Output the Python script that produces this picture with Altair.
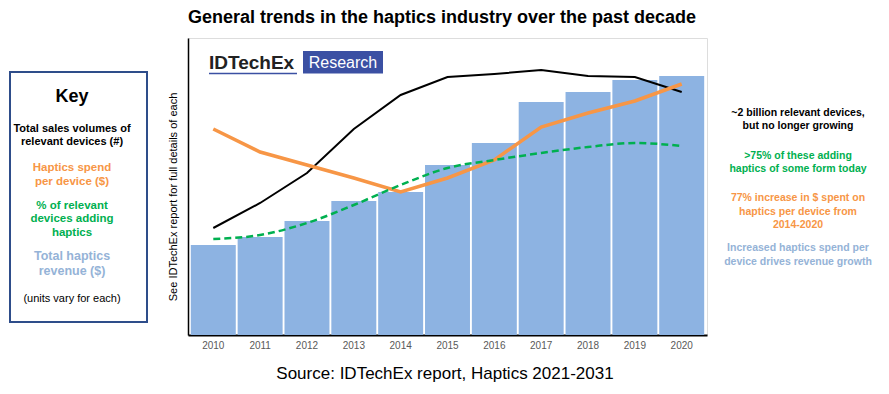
import altair as alt
import pandas as pd

years = ["2010", "2011", "2012", "2013", "2014", "2015", "2016", "2017", "2018", "2019", "2020"]
revenue = [90, 98, 114, 134, 143, 170, 192, 233, 243, 255, 259]
devices = [107, 132, 162, 206, 240, 258, 261, 265, 259, 258, 243]
spend = [206, 183, 170, 157, 143, 157, 175, 208, 222, 234, 251]
share = [96, 100, 112, 130, 150, 167, 175, 182, 188, 192, 189]

df = pd.DataFrame({"year": years, "revenue": revenue, "devices": devices,
                   "spend": spend, "share": share})

FONT = "Liberation Sans, Arial, sans-serif"
W, H = 519, 297
BLUE = "#8DB3E2"
ORANGE = "#F79646"
GREEN = "#00B050"
LBLUE = "#95B3D7"

xs = alt.Scale(paddingInner=0.04, paddingOuter=0.06)
ys = alt.Scale(domain=[0, 297], nice=False, zero=True)

xenc = alt.X("year:N", scale=xs, sort=years,
             axis=alt.Axis(title=None, labelAngle=0, ticks=False, domainColor="black",
                           domainWidth=2, labelColor="#595959", labelFontSize=10,
                           labelPadding=5, labelFont=FONT, grid=False))
yaxis = alt.Axis(title=None, labels=False, ticks=False, grid=False,
                 domainColor="black", domainWidth=1.5)

base = alt.Chart(df)
bars = base.mark_bar(color=BLUE).encode(x=xenc, y=alt.Y("revenue:Q", scale=ys, axis=yaxis))
black = base.mark_line(color="black", strokeWidth=2).encode(x=xenc, y=alt.Y("devices:Q", scale=ys))
orange = base.mark_line(color=ORANGE, strokeWidth=3.5).encode(x=xenc, y=alt.Y("spend:Q", scale=ys))
green = base.mark_line(color=GREEN, strokeWidth=2.5, strokeDash=[7, 4],
                       interpolate="monotone").encode(x=xenc, y=alt.Y("share:Q", scale=ys))


def label(lines, x, y, color="black", size=11, weight="bold", align="center",
          angle=0, baseline="middle", lh=13):
    return alt.Chart(alt.Data(values=[{}])).mark_text(
        text=lines, color=color, fontSize=size, fontWeight=weight, font=FONT,
        align=align, baseline=baseline, angle=angle, lineHeight=lh
    ).encode(x=alt.value(x), y=alt.value(y))


def rect(x1, x2, y1, y2, fill, stroke=None, sw=0):
    kw = dict(fill=fill)
    if stroke:
        kw.update(stroke=stroke, strokeWidth=sw)
    return alt.Chart(alt.Data(values=[{}])).mark_rect(**kw).encode(
        x=alt.value(x1), x2=alt.value(x2), y=alt.value(y1), y2=alt.value(y2))


def rule(x1, x2, y1, y2, color, sw):
    return alt.Chart(alt.Data(values=[{}])).mark_rule(color=color, strokeWidth=sw).encode(
        x=alt.value(x1), x2=alt.value(x2), y=alt.value(y1), y2=alt.value(y2))


LX = -116
RX = 610
texts = [
    label(["General trends in the haptics industry over the past decade"], 254, -20, size=18),
    label(["Source: IDTechEx report, Haptics 2021-2031"], 257, 336, size=17, weight="normal"),
    label(["See IDTechEx report for full details of each"], -14, 159, size=11,
          weight="normal", angle=270),
    rect(-178, -41, 34, 284, "white", "#2E4D8A", 2),
    label(["Key"], LX, 59, size=18),
    label(["Total sales volumes of", "relevant devices (#)"], LX, 91, size=11, lh=12.7),
    label(["Haptics spend", "per device ($)"], LX, 130.3, color=ORANGE, size=11.5, lh=13.4),
    label(["% of relevant", "devices adding", "haptics"], LX, 168, color=GREEN,
          size=11.5, lh=13.4),
    label(["Total haptics", "revenue ($)"], LX, 218, color=LBLUE, size=12.5, lh=15),
    label(["(units vary for each)"], LX, 261.3, size=11, weight="normal"),
    label(["~2 billion relevant devices,", "but no longer growing"], RX, 75.3,
          size=10.5, lh=12.7),
    label([">75% of these adding", "haptics of some form today"], RX, 118,
          color=GREEN, size=10.5, lh=13.3),
    label(["77% increase in $ spent on", "haptics per device from", "2014-2020"], RX, 160.3,
          color=ORANGE, size=10.5, lh=13.3),
    label(["Increased haptics spend per", "device drives revenue growth"], RX, 210.3,
          color=LBLUE, size=10.5, lh=13.3),
    # logo
    label(["IDTechEx"], 21, 30.5, color="#222222", size=19, align="left",
          baseline="alphabetic"),
    rule(21, 109, 35.5, 35.5, "#3B50A3", 1.5),
    rect(115, 195, 13, 35.5, "#3B50A3"),
    label(["Research"], 155, 24.5, color="white", size=16, weight="normal"),
]

chart = alt.layer(bars, black, orange, green, *texts).properties(
    width=W, height=H,
    autosize=alt.AutoSizeParams(type="none"),
    padding={"left": 180, "top": 30, "right": 166, "bottom": 48},
).configure_view(stroke="transparent", strokeWidth=0).configure(font=FONT)

chart.save("out.html", embed_options={"renderer": "svg", "actions": False})
